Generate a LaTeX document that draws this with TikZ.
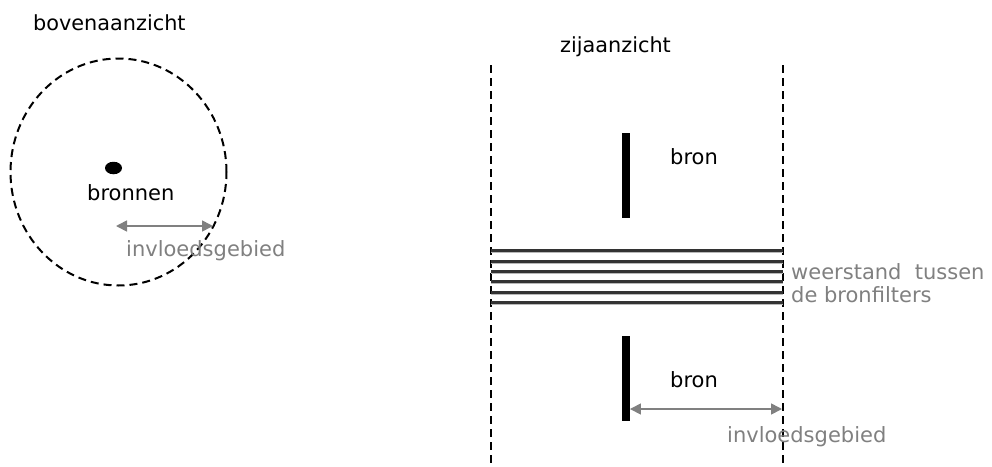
\documentclass[tikz,border=0pt]{standalone}
\usepackage{fontspec}
\setmainfont{DejaVu Sans}
\usetikzlibrary{arrows.meta,shapes.geometric}
\definecolor{lbl}{RGB}{128,128,128}
\tikzset{
  title/.style={anchor=west,inner sep=0pt,font=\fontsize{20.8}{24}\selectfont},
  lab/.style={anchor=west,inner sep=0pt,font=\fontsize{21}{25}\selectfont},
  glab/.style={anchor=west,inner sep=0pt,text=lbl,font=\fontsize{21}{25}\selectfont},
  dashline/.style={line width=2pt,dash pattern=on 8pt off 5pt},
  bar/.style={fill=black,draw=none,minimum width=7.5pt,inner sep=0pt},
  garrow/.style={lbl,line width=1.6pt,{Triangle[length=11pt,width=11pt]}-{Triangle[length=11pt,width=11pt]}},
  filt/.style={line width=2.6pt,black!80},
  filtsh/.style={line width=4.5pt,lbl!55},
}
\begin{document}
\begin{tikzpicture}[x=1pt,y=-1pt]
\useasboundingbox (0,0) rectangle (992,466);
% top view
\node[title] (tv) at (33,23) {bovenaanzicht};
\node[draw,dashline,ellipse,minimum width=216pt,minimum height=227pt,inner sep=0pt] (circ) at (118.5,172) {};
\node[ellipse,fill=black,minimum width=17pt,minimum height=12.5pt,inner sep=0pt] (dot) at (113.5,168) {};
\node[lab] (bronnen) at (87,193) {bronnen};
\coordinate (a1) at (116,226);
\coordinate (a2) at (213,226);
\draw[garrow] (a1) -- (a2);
\node[glab] (inv1) at (126,251) {invloedsgebied};
% side view
\node[title] (sv) at (560,47) {zijaanzicht};
\coordinate (lt) at (491,65); \coordinate (lb) at (491,466);
\coordinate (rt) at (783,65); \coordinate (rb) at (783,466);
\draw[dashline] (lt) -- (lb);
\draw[dashline] (rt) -- (rb);
\node[bar,minimum height=85pt] (bar1) at (626,175.5) {};
\node[lab] (bron1) at (670,157) {bron};
\node[bar,minimum height=85pt] (bar2) at (626,378.5) {};
\node[lab] (bron2) at (670,380) {bron};
\foreach \y in {250.7,261.3,271.7,281.7,292.3,302.7}{
  \draw[filtsh] (491,\y+0.5) -- (783,\y+0.5);
  \draw[filt] (491,\y) -- (783,\y);
}
\node[glab] (w1) at (791,272) {weerstand\ \ tussen};
\node[glab] (w2) at (791,295) {de bronfilters};
\coordinate (b1) at (bar2.east |- 0,409);
\coordinate (b2) at (782,409);
\draw[garrow] (b1) -- (b2);
\node[glab] (inv2) at (727,437) {invloedsgebied};
\end{tikzpicture}
\end{document}
